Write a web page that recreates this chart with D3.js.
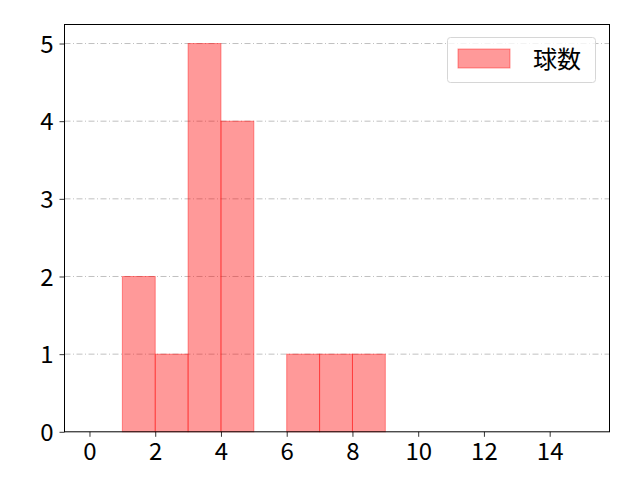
<!DOCTYPE html>
<html>
<head>
<meta charset="utf-8">
<script src="https://cdn.jsdelivr.net/npm/d3@7"></script>
<style>
  body { margin: 0; background: #fff; }
  svg { font-family: "Noto Sans CJK JP", "DejaVu Sans", sans-serif; }
</style>
</head>
<body>
<div class="container"></div>
<script>
// histogram bins (left edge, right edge) and counts
let binStarts = [0, 1, 2, 3, 4, 5, 6, 7, 8, 9, 10, 11, 12, 13, 14]
let binEnds   = [1, 2, 3, 4, 5, 6, 7, 8, 9, 10, 11, 12, 13, 14, 15]
let counts    = [0, 2, 1, 5, 4, 0, 1, 1, 1, 0, 0, 0, 0, 0, 0]
let xTicks = [0, 2, 4, 6, 8, 10, 12, 14]
let yTicks = [0, 1, 2, 3, 4, 5]
let seriesName = '球数'

let width = 640, height = 480
let plotLeft = 64.5, plotRight = 609.5, plotTop = 24.5, plotBottom = 431.8

let svg = d3.select('.container')
    .append('svg')
    .attr('width', width)
    .attr('height', height)

let x = d3.scaleLinear()
    .domain([-0.76, 15.82])
    .range([plotLeft, plotRight])
let y = d3.scaleLinear()
    .domain([0, 5.245])
    .range([plotBottom, plotTop])

// grid
svg.append('g')
    .selectAll('line')
    .data(yTicks.filter(d => d > 0))
    .enter()
    .append('line')
    .attr('x1', plotLeft).attr('x2', plotRight)
    .attr('y1', d => y(d)).attr('y2', d => y(d))
    .attr('stroke', '#b0b0b0')
    .attr('stroke-width', 0.8)
    .attr('stroke-dasharray', '6,2.5,1,2.5')

// bars
svg.append('g')
    .selectAll('rect')
    .data(counts)
    .enter()
    .append('rect')
    .attr('x', (d, i) => x(binStarts[i]))
    .attr('y', d => y(d))
    .attr('width', (d, i) => x(binEnds[i]) - x(binStarts[i]))
    .attr('height', d => y(0) - y(d))
    .attr('fill', 'rgba(255,0,0,0.4)')
    .attr('stroke', 'rgba(255,0,0,0.4)')
    .attr('stroke-width', 1)

// axes
let xAxis = d3.axisBottom(x).tickValues(xTicks).tickFormat(d3.format('d')).tickSize(5).tickPadding(4)
let yAxis = d3.axisLeft(y).tickValues(yTicks).tickFormat(d3.format('d')).tickSize(5).tickPadding(6)
let gx = svg.append('g')
    .attr('transform', 'translate(0,' + plotBottom + ')')
    .call(xAxis)
let gy = svg.append('g')
    .attr('transform', 'translate(' + plotLeft + ',0)')
    .call(yAxis)
;[gx, gy].forEach(g => {
    g.select('.domain').remove()
    g.selectAll('text')
        .attr('font-size', 24)
        .attr('font-family', '"Noto Sans CJK JP", sans-serif')
        .attr('fill', '#000')
    g.selectAll('line').attr('stroke', '#000').attr('stroke-width', 0.8)
})
gx.selectAll('text').attr('dy', '0.78em')
gy.selectAll('text').attr('dy', '0.36em')

// frame
svg.append('rect')
    .attr('x', plotLeft).attr('y', plotTop)
    .attr('width', plotRight - plotLeft).attr('height', plotBottom - plotTop)
    .attr('fill', 'none')
    .attr('stroke', '#000')
    .attr('stroke-width', 1)

// legend
let lg = svg.append('g')
lg.append('rect')
    .attr('x', 447.5).attr('y', 37.5)
    .attr('width', 148).attr('height', 45)
    .attr('rx', 3)
    .attr('fill', 'rgba(255,255,255,0.8)')
    .attr('stroke', '#d6d6d6')
lg.append('rect')
    .attr('x', 458).attr('y', 49)
    .attr('width', 52).attr('height', 19)
    .attr('fill', 'rgba(255,0,0,0.4)')
    .attr('stroke', 'rgba(255,0,0,0.4)')
lg.append('text')
    .attr('x', 533).attr('y', 68)
    .attr('font-size', 24)
    .text(seriesName)
</script>
</body>
</html>
